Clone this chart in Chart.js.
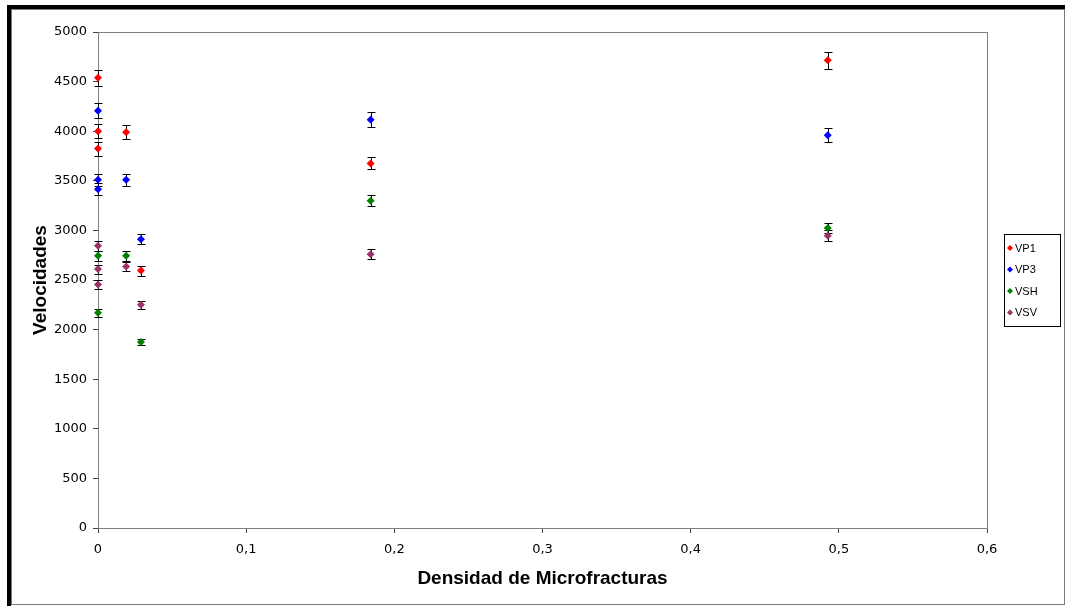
<!DOCTYPE html>
<html>
<head>
<meta charset="utf-8">
<title>Velocidades vs Densidad de Microfracturas</title>
<script src="https://cdn.jsdelivr.net/npm/chart.js@4/dist/chart.umd.min.js"></script>
<style>
  html, body { margin: 0; padding: 0; background: #fff; }
  #wrap { width: 1066px; height: 607px; position: relative; }
</style>
</head>
<body>
<div id="wrap"><canvas id="grafico" width="1066" height="607"></canvas></div>
<script>
// Densidad de microfracturas (eje X) y velocidades medidas, con su error
const vp1X   = [0, 0, 0, 0.019, 0.029, 0.184, 0.4925];
const vp1    = [4540, 4000, 3825, 3990, 2595, 3675, 4715];
const vp1Err = [80, 70, 70, 70, 50, 60, 85];

const vp3X   = [0, 0, 0, 0.019, 0.029, 0.184, 0.4925];
const vp3    = [4205, 3510, 3415, 3510, 2910, 4115, 3960];
const vp3Err = [75, 60, 60, 60, 50, 75, 70];

const vshX   = [0, 0, 0.019, 0.029, 0.184, 0.4925];
const vsh    = [2745, 2170, 2745, 1875, 3300, 3025];
const vshErr = [50, 40, 50, 35, 55, 50];

const vsvX   = [0, 0, 0, 0.019, 0.029, 0.184, 0.4925];
const vsv    = [2845, 2610, 2455, 2635, 2250, 2760, 2945];
const vsvErr = [50, 45, 45, 45, 40, 50, 55];

const seriesNames  = ['VP1', 'VP3', 'VSH', 'VSV'];
const seriesColors = ['#FF0000', '#0000FF', '#008000', '#993366'];

const xTicks = [0, 0.1, 0.2, 0.3, 0.4, 0.5, 0.6];
const yTicks = [0, 500, 1000, 1500, 2000, 2500, 3000, 3500, 4000, 4500, 5000];

const xTitle = 'Densidad de Microfracturas';
const yTitle = 'Velocidades';

function puntos(xs, ys) {
  return xs.map((x, i) => ({ x: x, y: ys[i] }));
}

const series = [
  { x: vp1X, y: vp1, err: vp1Err },
  { x: vp3X, y: vp3, err: vp3Err },
  { x: vshX, y: vsh, err: vshErr },
  { x: vsvX, y: vsv, err: vsvErr }
];

const datasets = series.map((s, i) => ({
  label: seriesNames[i],
  data: puntos(s.x, s.y),
  errores: s.err,
  pointStyle: 'rectRot',
  pointRadius: 4,
  pointHoverRadius: 4,
  backgroundColor: seriesColors[i],
  borderColor: seriesColors[i],
  borderWidth: 0,
  showLine: false,
  clip: false
}));

// Marco exterior del gráfico
const marco = {
  id: 'marco',
  beforeDraw(chart) {
    const ctx = chart.ctx;
    ctx.save();
    ctx.fillStyle = '#ffffff';
    ctx.fillRect(0, 0, chart.width, chart.height);
    ctx.fillStyle = '#000000';
    ctx.fillRect(7, 5, 1058, 4);
    ctx.fillRect(7, 5, 4, 601);
    ctx.strokeStyle = '#7a7a7a';
    ctx.lineWidth = 1;
    ctx.strokeRect(11.5, 9.5, 1053, 595);
    ctx.restore();
  }
};

// Borde del área de trazado
const bordeArea = {
  id: 'bordeArea',
  beforeDatasetsDraw(chart) {
    const a = chart.chartArea;
    const ctx = chart.ctx;
    ctx.save();
    ctx.strokeStyle = '#808080';
    ctx.lineWidth = 1;
    ctx.strokeRect(Math.round(a.left) + 0.5, Math.round(a.top) + 0.5,
                   Math.round(a.right - a.left), Math.round(a.bottom - a.top));
    ctx.restore();
  }
};

// Barras de error verticales
const barrasError = {
  id: 'barrasError',
  beforeDatasetsDraw(chart) {
    const ctx = chart.ctx;
    const xs = chart.scales.x, ys = chart.scales.y;
    ctx.save();
    ctx.strokeStyle = '#000000';
    ctx.lineWidth = 1;
    chart.data.datasets.forEach(ds => {
      ds.data.forEach((p, j) => {
        const e = ds.errores[j];
        const px = Math.round(xs.getPixelForValue(p.x)) + 0.5;
        const yt = Math.round(ys.getPixelForValue(p.y + e)) + 0.5;
        const yb = Math.round(ys.getPixelForValue(p.y - e)) + 0.5;
        ctx.beginPath();
        ctx.moveTo(px, yt); ctx.lineTo(px, yb);
        ctx.moveTo(px - 4, yt); ctx.lineTo(px + 4, yt);
        ctx.moveTo(px - 4, yb); ctx.lineTo(px + 4, yb);
        ctx.stroke();
      });
    });
    ctx.restore();
  }
};

// Leyenda con recuadro a la derecha
const leyenda = {
  id: 'leyenda',
  afterDraw(chart) {
    const ctx = chart.ctx;
    ctx.save();
    ctx.strokeStyle = '#000000';
    ctx.lineWidth = 1;
    ctx.strokeRect(1004.5, 234.5, 56, 92);
    ctx.font = '11px "Liberation Sans", Arial, sans-serif';
    ctx.textBaseline = 'middle';
    ctx.textAlign = 'left';
    chart.data.datasets.forEach((ds, i) => {
      const y = 248 + i * 21.5;
      ctx.fillStyle = ds.backgroundColor;
      ctx.beginPath();
      ctx.moveTo(1010, y - 3); ctx.lineTo(1013, y); ctx.lineTo(1010, y + 3); ctx.lineTo(1007, y);
      ctx.closePath();
      ctx.fill();
      ctx.fillStyle = '#000000';
      ctx.fillText(ds.label, 1015, y + 0.5);
    });
    ctx.restore();
  }
};

const fuenteTicks = { family: '"DejaVu Sans", sans-serif', size: 13 };
const fuenteTitulo = { family: '"Liberation Sans", Arial, sans-serif', size: 19, weight: 'bold' };

new Chart(document.getElementById('grafico'), {
  type: 'scatter',
  data: { datasets: datasets },
  options: {
    responsive: false,
    animation: false,
    devicePixelRatio: 1,
    layout: { padding: { left: 0, top: 32, right: 79, bottom: 0 } },
    plugins: {
      legend: { display: false },
      tooltip: { enabled: false }
    },
    scales: {
      x: {
        type: 'linear',
        min: xTicks[0],
        max: xTicks[xTicks.length - 1],
        afterBuildTicks: s => { s.ticks = xTicks.map(v => ({ value: v })); },
        afterFit: s => { s.height = 79; },
        ticks: {
          font: fuenteTicks,
          color: '#000',
          padding: 9,
          maxRotation: 0,
          callback: v => (v === 0 ? '0' : (Math.round(v * 10) / 10).toString().replace('.', ','))
        },
        grid: { drawOnChartArea: false, drawTicks: true, tickLength: 5, color: '#404040' },
        border: { display: true, color: '#404040' },
        title: {
          display: true,
          text: xTitle,
          font: fuenteTitulo,
          color: '#000',
          padding: { top: 0, bottom: 17 }
        }
      },
      y: {
        type: 'linear',
        min: yTicks[0],
        max: yTicks[yTicks.length - 1],
        afterBuildTicks: s => { s.ticks = yTicks.map(v => ({ value: v })); },
        afterFit: s => { s.width = 98; },
        ticks: { font: fuenteTicks, color: '#000', padding: 6, callback: v => String(v) },
        grid: { drawOnChartArea: false, drawTicks: true, tickLength: 5, color: '#404040' },
        border: { display: true, color: '#404040' },
        title: {
          display: true,
          text: yTitle,
          font: fuenteTitulo,
          color: '#000',
          padding: { top: 29, bottom: 0 }
        }
      }
    }
  },
  plugins: [marco, bordeArea, barrasError, leyenda]
});
</script>
</body>
</html>
